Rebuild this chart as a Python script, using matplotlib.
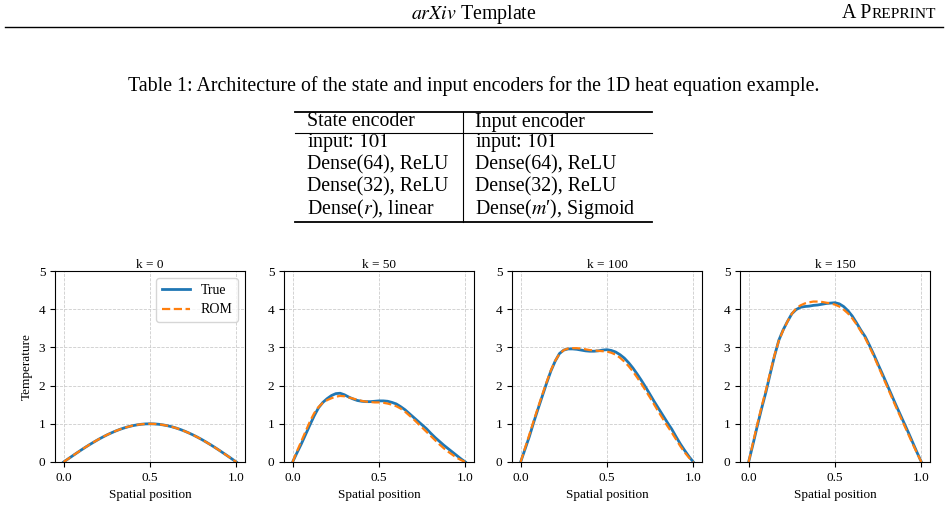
import numpy as np
import matplotlib
matplotlib.use('Agg')
import matplotlib.pyplot as plt
from matplotlib.lines import Line2D

plt.rcParams.update({'font.family': 'Liberation Serif',
                     'mathtext.fontset': 'stix',
                     'font.size': 9.5})

# spatial grid and temperature profiles
x = [0.000, 0.025, 0.050, 0.075, 0.100, 0.125, 0.150, 0.175, 0.200, 0.225,
     0.250, 0.275, 0.300, 0.325, 0.350, 0.375, 0.400, 0.425, 0.450, 0.475,
     0.500, 0.525, 0.550, 0.575, 0.600, 0.625, 0.650, 0.675, 0.700, 0.725,
     0.750, 0.775, 0.800, 0.825, 0.850, 0.875, 0.900, 0.925, 0.950, 0.975,
     1.000]
steps = [0, 50, 100, 150]

true_k0 = [0, 0.078, 0.156, 0.233, 0.309, 0.383, 0.454, 0.522, 0.588, 0.649,
           0.707, 0.760, 0.809, 0.853, 0.891, 0.924, 0.951, 0.972, 0.988, 0.997,
           1.000, 0.997, 0.988, 0.972, 0.951, 0.924, 0.891, 0.853, 0.809, 0.760,
           0.707, 0.649, 0.588, 0.522, 0.454, 0.383, 0.309, 0.233, 0.156, 0.078,
           0]
rom_k0 = [0, 0.079, 0.157, 0.234, 0.310, 0.384, 0.455, 0.523, 0.589, 0.650,
          0.708, 0.761, 0.810, 0.854, 0.892, 0.925, 0.952, 0.973, 0.988, 0.997,
          1.000, 0.996, 0.987, 0.971, 0.950, 0.923, 0.890, 0.852, 0.808, 0.759,
          0.706, 0.648, 0.587, 0.521, 0.453, 0.382, 0.308, 0.232, 0.155, 0.077,
          0]
true_k50 = [0, 0.24, 0.47, 0.72, 0.97, 1.21, 1.42, 1.56, 1.66, 1.74,
            1.79, 1.80, 1.76, 1.70, 1.65, 1.61, 1.59, 1.58, 1.58, 1.59,
            1.60, 1.60, 1.59, 1.56, 1.52, 1.45, 1.37, 1.27, 1.17, 1.07,
            0.97, 0.87, 0.75, 0.64, 0.54, 0.44, 0.35, 0.26, 0.17, 0.08,
            0]
rom_k50 = [0, 0.28, 0.54, 0.80, 1.06, 1.28, 1.44, 1.55, 1.62, 1.67,
           1.71, 1.73, 1.72, 1.69, 1.66, 1.63, 1.60, 1.58, 1.57, 1.56,
           1.56, 1.55, 1.53, 1.50, 1.46, 1.40, 1.32, 1.22, 1.12, 1.01,
           0.90, 0.79, 0.68, 0.57, 0.46, 0.36, 0.27, 0.19, 0.11, 0.05,
           0]
true_k100 = [0, 0.33, 0.66, 1.03, 1.38, 1.72, 2.06, 2.38, 2.64, 2.84,
             2.93, 2.96, 2.96, 2.95, 2.93, 2.91, 2.90, 2.90, 2.91, 2.93,
             2.94, 2.92, 2.88, 2.81, 2.72, 2.60, 2.46, 2.30, 2.13, 1.95,
             1.76, 1.57, 1.39, 1.21, 1.03, 0.86, 0.66, 0.47, 0.30, 0.14,
             0]
rom_k100 = [0, 0.36, 0.71, 1.07, 1.42, 1.76, 2.09, 2.40, 2.65, 2.83,
            2.93, 2.97, 2.98, 2.98, 2.97, 2.95, 2.93, 2.92, 2.91, 2.90,
            2.89, 2.86, 2.81, 2.73, 2.63, 2.51, 2.37, 2.21, 2.04, 1.86,
            1.68, 1.49, 1.30, 1.12, 0.94, 0.77, 0.59, 0.41, 0.25, 0.11,
            0]
true_k150 = [0, 0.46, 0.94, 1.40, 1.83, 2.31, 2.78, 3.19, 3.46, 3.68,
             3.88, 3.99, 4.05, 4.07, 4.08, 4.10, 4.11, 4.13, 4.15, 4.16,
             4.17, 4.14, 4.07, 3.96, 3.82, 3.64, 3.45, 3.28, 3.05, 2.81,
             2.55, 2.30, 2.04, 1.78, 1.52, 1.27, 1.02, 0.77, 0.51, 0.25,
             0]
rom_k150 = [0, 0.50, 0.99, 1.45, 1.88, 2.35, 2.80, 3.18, 3.45, 3.68,
            3.88, 4.02, 4.10, 4.15, 4.18, 4.20, 4.20, 4.19, 4.17, 4.15,
            4.12, 4.07, 3.99, 3.89, 3.76, 3.60, 3.42, 3.24, 3.01, 2.77,
            2.51, 2.25, 1.99, 1.73, 1.47, 1.22, 0.97, 0.72, 0.47, 0.23,
            0]

true_all = [true_k0, true_k50, true_k100, true_k150]
rom_all = [rom_k0, rom_k50, rom_k100, rom_k150]

# table contents
caption = 'Table 1: Architecture of the state and input encoders for the 1D heat equation example.'
col_heads = ['State encoder', 'Input encoder']
state_rows = ['input: $101$', 'Dense(64), ReLU', 'Dense(32), ReLU', r'Dense($r$), linear']
input_rows = ['input: $101$', 'Dense(64), ReLU', 'Dense(32), ReLU', 'Dense($m$\u2032), Sigmoid']

W, H = 948, 512
fig = plt.figure(figsize=(W / 100, H / 100), dpi=100)
FS = 14.3


def fx(px):
    return px / W


def fy(py):
    return 1 - py / H


def hline(x0, x1, y, lw):
    fig.add_artist(Line2D([fx(x0), fx(x1)], [fy(y), fy(y)], color='black',
                          lw=lw, transform=fig.transFigure))


# page header
fig.text(fx(474), fy(14), r'$\mathit{arXiv}$ Template', ha='center', va='center',
         fontsize=FS)
r = fig.canvas.get_renderer()
t1 = fig.text(fx(936), fy(14), 'REPRINT', ha='right', va='center', fontsize=FS * 0.78)
bb = t1.get_window_extent(renderer=r)
fig.text(bb.x0 / W, fy(14), 'A P', ha='right', va='center', fontsize=FS)
hline(5, 943, 27, 1.0)

# table
fig.text(fx(474), fy(86), caption, ha='center', va='center', fontsize=FS)
tl, tr, tdiv = 295, 652, 463
hline(tl, tr, 111.5, 1.3)
hline(tl, tr, 132.5, 0.8)
hline(tl, tr, 221.5, 1.3)
fig.add_artist(Line2D([fx(tdiv), fx(tdiv)], [fy(111.5), fy(221.5)], color='black',
                      lw=0.8, transform=fig.transFigure))
fig.text(fx(307), fy(122), col_heads[0], ha='left', va='center', fontsize=FS)
fig.text(fx(475), fy(122), col_heads[1], ha='left', va='center', fontsize=FS)
row_y = [143, 165, 187, 209]
for yy, a, b in zip(row_y, state_rows, input_rows):
    fig.text(fx(307), fy(yy), a, ha='left', va='center', fontsize=FS)
    fig.text(fx(475), fy(yy), b, ha='left', va='center', fontsize=FS)

# plots
lefts = [55, 284, 512, 740]
for i, k in enumerate(steps):
    ax = fig.add_axes([fx(lefts[i]), fy(462), fx(190), 191 / H])
    ax.plot(x, true_all[i], color='tab:blue', lw=2, label='True')
    ax.plot(x, rom_all[i], color='tab:orange', lw=1.6, ls='--', label='ROM')
    ax.set_ylim(0, 5)
    ax.set_xlim(-0.05, 1.05)
    ax.set_xticks([0.0, 0.5, 1.0])
    ax.set_yticks(range(6))
    ax.grid(True, ls='--', lw=0.6, color='#cccccc')
    ax.set_title('k = {}'.format(k), fontsize=9.5, pad=2)
    ax.set_xlabel('Spatial position', fontsize=9.5)
    if i == 0:
        ax.set_ylabel('Temperature', fontsize=9.5)
        ax.legend(loc='upper right', fontsize=10)

fig.savefig('out.png', dpi=100)
